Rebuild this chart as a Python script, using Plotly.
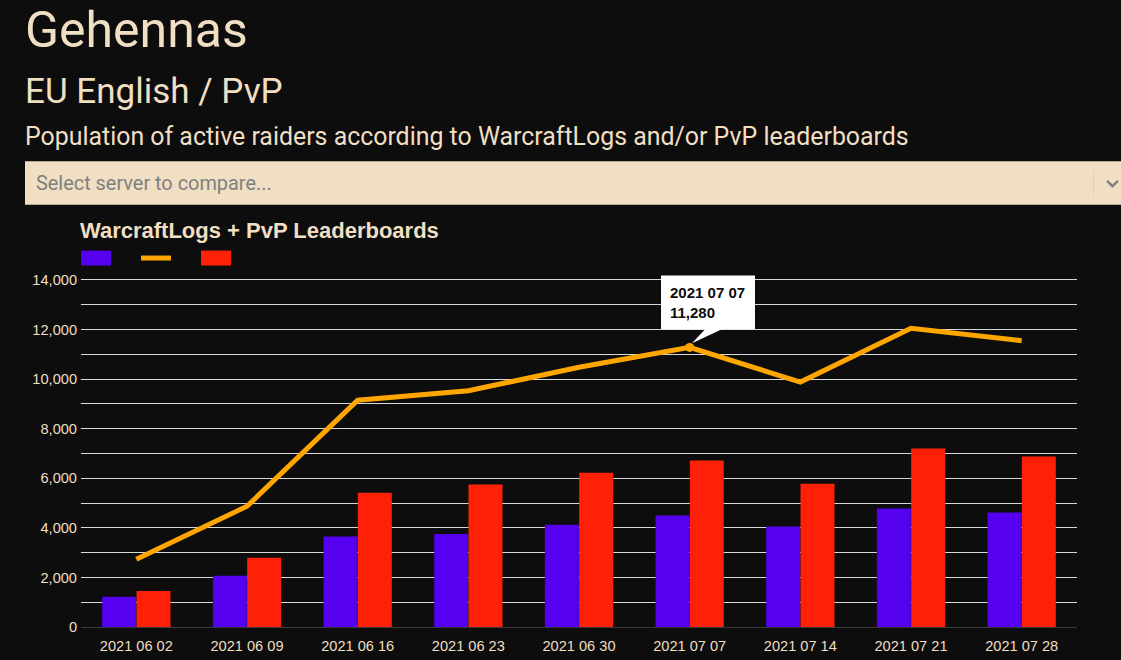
"""plot.py - plotly を使ったサーバー人口チャートHTML生成。"""

import plotly.express as px

dates = [
    "2021 06 02", "2021 06 09", "2021 06 16", "2021 06 23", "2021 06 30",
    "2021 07 07", "2021 07 14", "2021 07 21", "2021 07 28",
]
warcraftlogs = [1220, 2070, 3650, 3750, 4130, 4500, 4050, 4780, 4620]
leaderboards = [1450, 2790, 5420, 5750, 6220, 6720, 5780, 7200, 6880]
total = [2730, 4870, 9150, 9530, 10480, 11280, 9880, 12050, 11550]
y_ticks = [0, 2000, 4000, 6000, 8000, 10000, 12000, 14000]

W = 1121
H = 660
BG = "#0d0d0d"
CREAM = "#f0dfc3"
PURPLE = "#5500ee"
ORANGE = "#ffa500"
RED = "#ff2008"


def fx(px_val):
    """ピクセル位置を paper 座標 x に変換する。"""
    return (px_val - 81) / (1077 - 81)


def fy(px_val):
    """ピクセル位置を paper 座標 y に変換する。"""
    return (627.5 - px_val) / (627.5 - 275.5)


def rect(x0, y0, x1, y1, color):
    return dict(
        type="rect", xref="paper", yref="paper", layer="above",
        x0=fx(x0), y0=fy(y0), x1=fx(x1), y1=fy(y1),
        fillcolor=color, line=dict(width=0),
    )


def label(text, x, y, size, color=CREAM, family="Roboto"):
    return dict(
        text=text, xref="paper", yref="paper", x=fx(x - 2.5), y=fy(y),
        xanchor="left", yanchor="middle", showarrow=False,
        font=dict(family=family, size=size, color=color),
    )


rows = []
for d, a, b in zip(dates, warcraftlogs, leaderboards):
    rows.append({"date": d, "series": "WarcraftLogs", "value": a})
    rows.append({"date": d, "series": "PvP Leaderboards", "value": b})

fig = px.bar(
    rows,
    x="date",
    y="value",
    color="series",
    barmode="group",
    color_discrete_sequence=[PURPLE, RED],
)
fig.update_traces(marker_line_width=0)
fig.add_scatter(
    x=dates, y=total, mode="lines", name="Total",
    line=dict(color=ORANGE, width=5),
)
fig.add_scatter(  # ツールチップの点
    x=[dates[5]], y=[total[5]], mode="markers", name="Selected",
    marker=dict(color=ORANGE, size=9),
)

wedge = "M {} {} L {} {} L {} {} Z".format(
    fx(706), fy(328), fx(724), fy(328), fx(692), fy(343)
)
chevron = "M {} {} L {} {} L {} {}".format(
    fx(1107), fy(180), fx(1112.5), fy(185.5), fx(1118), fy(180)
)
fig.update_layout(
    width=W,
    height=H,
    margin=dict(l=81, r=W - 1077, t=275.5, b=H - 627.5, autoexpand=False),
    paper_bgcolor=BG,
    plot_bgcolor=BG,
    showlegend=False,
    bargap=0.38,
    bargroupgap=0.01,
    font=dict(family="Liberation Sans", size=14.6, color=CREAM),
    shapes=[
        rect(25, 160.5, 1121, 204, CREAM),
        rect(1093, 170, 1094, 195, "#e0d0b5"),
        dict(
            type="path", path=chevron, xref="paper", yref="paper", layer="above",
            line=dict(color="#808080", width=2.5),
        ),
        rect(81, 250, 111, 265, PURPLE),
        rect(141, 255, 171, 260, ORANGE),
        rect(201, 250, 231, 265, RED),
        rect(661, 275, 755, 329, "#ffffff"),
        dict(
            type="path", path=wedge, xref="paper", yref="paper", layer="above",
            fillcolor="#ffffff", line=dict(width=0),
        ),
    ],
    annotations=[
        label("Gehennas", 25, 29, 50),
        label("EU English / PvP", 25, 90, 35),
        label("Population of active raiders according to WarcraftLogs and/or PvP leaderboards", 25, 136, 24.9),
        label("Select server to compare...", 36, 183, 19.9, color="#808080"),
        label("<b>WarcraftLogs + PvP Leaderboards</b>", 80, 229.5, 22, family="Liberation Sans"),
        label("<b>2021 07 07</b>", 670, 292, 15, color="#0d0d0d", family="Liberation Sans"),
        label("<b>11,280</b>", 670, 312, 15, color="#0d0d0d", family="Liberation Sans"),
    ],
)
fig.update_xaxes(
    type="category", title_text=None, showgrid=False, ticks="", showline=False,
    ticklabelstandoff=8, tickfont=dict(size=14.6, color=CREAM),
)
fig.update_yaxes(
    title_text=None, range=[0, 14161], tickvals=y_ticks, tickformat=",",
    showgrid=True, gridcolor="#d8d8d8", gridwidth=1, zeroline=True,
    zerolinecolor="#3a3a3a", zerolinewidth=1, ticks="", ticklabelstandoff=3,
    minor=dict(dtick=1000, showgrid=True, gridcolor="#d8d8d8", gridwidth=1),
    tickfont=dict(size=14.6, color=CREAM),
)
fig.write_html(
    "out.html",
    config={"displayModeBar": False},
    post_script="document.body.style.margin='0';document.body.style.background='%s';" % BG,
)
